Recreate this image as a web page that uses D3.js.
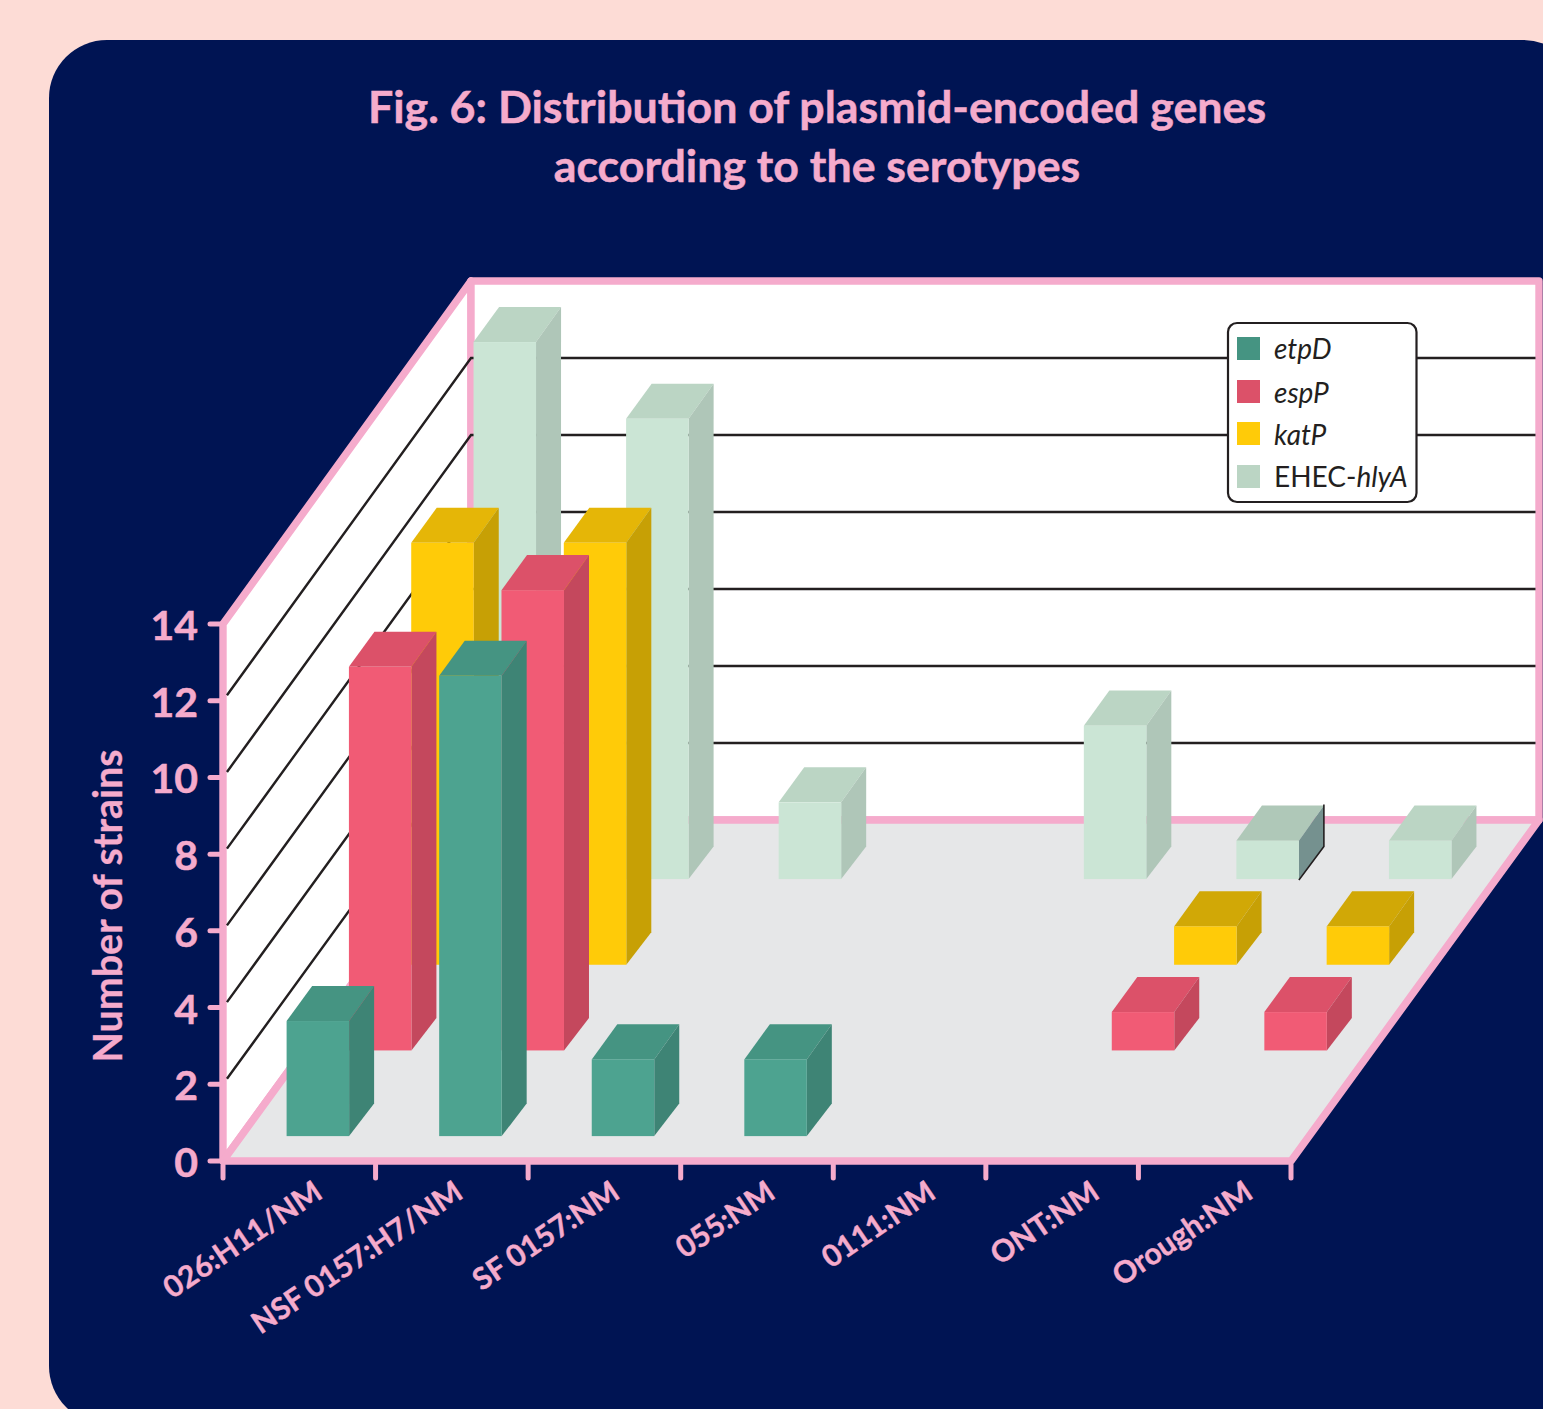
<!DOCTYPE html>
<html>
<head>
<meta charset="utf-8">
<script src="https://cdn.jsdelivr.net/npm/d3@7"></script>
<style>
  html, body { margin: 0; padding: 0; background: #FDDCD6; overflow: hidden; }
  svg { display: block; font-family: Lato, "Open Sans", sans-serif; }
</style>
</head>
<body>
<svg id="chart" width="1543" height="1409"></svg>
<script>
// Serotypes along the floor, genes from the front row to the back row.
const categories = ["026:H11/NM", "NSF 0157:H7/NM", "SF 0157:NM", "055:NM", "0111:NM", "ONT:NM", "Orough:NM"];
const genes = ["etpD", "espP", "katP", "EHEC-hlyA"];
const etpD = [3, 12, 2, 2, 0, 0, 0];
const espP = [10, 12, 0, 0, 0, 1, 1];
const katP = [11, 11, 0, 0, 0, 1, 1];
const hlyA = [14, 12, 2, 0, 4, 1, 1];
const yTicks = [0, 2, 4, 6, 8, 10, 12, 14];

const seriesValues = [etpD, espP, katP, hlyA];

// Face colours per gene.
const frontColors = ["#4DA390", "#F15B75", "#FFCB08", "#CBE5D5"];
const sideColors = ["#3E8475", "#C4485D", "#C7A005", "#AFC6B8"];
const topColors = ["#459482", "#DC5169", "#E5B607", "#BBD5C4"];
const legendColors = ["#459482", "#DC5169", "#FFCB08", "#BBD5C4"];
const PINK = "#F5ABCC", NAVY = "#001453", INK = "#231F20";

const svg = d3.select("#chart");

// Oblique projection: t runs 0 (front) to 1 (back wall).
const SHIFT_X = 248, SHIFT_Y = 341;
const x = d3.scaleBand().domain(categories).range([223, 1291]);
const y = d3.scaleLinear().domain([0, 14]).range([1161, 624]);
const yBack = d3.scaleLinear().domain([0, 14]).range([820, 281]);
const depth = d3.scaleBand().domain(genes).range([0, 1.005]);
const px = (xv, t) => xv + SHIFT_X * t;
const py = (v, t) => y(v) - SHIFT_Y * t;

const BAR_OFFSET = 45.5, BAR_W = 62.5, ROW_OFFSET = 0.073, BAR_DEPTH = 0.103, SIDE_DX = 25, SIDE_DY = 32.5;

// Backdrop panel
svg.append("rect").attr("width", 1543).attr("height", 1409).attr("fill", "#FDDCD6");
svg.append("rect").attr("x", 49).attr("y", 40).attr("width", 1532).attr("height", 1384)
  .attr("rx", 58).attr("fill", NAVY);

// Title
const title = svg.append("g").attr("text-anchor", "middle").attr("font-weight", 700)
  .attr("font-size", 44.7).attr("fill", PINK).attr("stroke", PINK).attr("stroke-width", 0.5);
title.append("text").attr("x", 817).attr("y", 123).text("Fig. 6: Distribution of plasmid-encoded genes");
title.append("text").attr("x", 817).attr("y", 182).text("according to the serotypes");

// Box planes: floor, side wall, back wall
const [x0, x1] = x.range();
const line = d3.line();
const floor = [[px(x0, 0), y(0)], [px(x0, 1), yBack(0)], [px(x1, 1), yBack(0)], [px(x1, 0), y(0)]];
const side = [[px(x0, 0), y(0)], [px(x0, 0), y(14)], [px(x0, 1), yBack(14)], [px(x0, 1), yBack(0)]];
const back = [[px(x0, 1), yBack(0)], [px(x0, 1), yBack(14)], [px(x1, 1), yBack(14)], [px(x1, 1), yBack(0)]];
const frame = svg.append("g").attr("stroke", PINK).attr("stroke-width", 7.4).attr("stroke-linejoin", "round");
frame.append("path").attr("d", line(side) + "Z").attr("fill", "#fff");
frame.append("path").attr("d", line(back) + "Z").attr("fill", "#fff");
frame.append("path").attr("d", line(floor) + "Z").attr("fill", "#E6E7E8");

// Grid lines run along the side wall and across the back wall.
svg.append("g").attr("fill", "none").attr("stroke", INK).attr("stroke-width", 2.4)
  .selectAll("path").data(yTicks.filter(d => d > 0 && d < 14)).join("path")
  .attr("d", d => {
    const inset = 0.016;
    return line([
      [px(x0, inset), y(d) + (yBack(d) - y(d)) * inset],
      [px(x0, 1), yBack(d)],
      [px(x1, 1) - 3.5, yBack(d)]
    ]);
  });

// Axis ticks and labels
const axisG = svg.append("g");
axisG.append("g").attr("stroke", PINK).attr("stroke-width", 5).attr("stroke-linecap", "round")
  .selectAll("line").data(yTicks).join("line")
  .attr("x1", 210).attr("x2", 222).attr("y1", d => y(d)).attr("y2", d => y(d));
const xEdges = categories.map(c => x(c)).concat([x1]);
axisG.append("g").attr("stroke", PINK).attr("stroke-width", 5).attr("stroke-linecap", "round")
  .selectAll("line").data(xEdges).join("line")
  .attr("x1", d => d).attr("x2", d => d).attr("y1", 1165).attr("y2", 1178);

axisG.append("g").attr("text-anchor", "end").attr("font-weight", 700).attr("font-size", 41).attr("fill", PINK)
  .attr("stroke", PINK).attr("stroke-width", 0.5)
  .selectAll("text").data(yTicks).join("text")
  .attr("x", 198).attr("y", d => y(d) + 16).text(d => d);

svg.append("text").attr("transform", "translate(122,906) rotate(-90)")
  .attr("text-anchor", "middle").attr("font-weight", 700).attr("font-size", 39.4).attr("fill", PINK)
  .attr("stroke", PINK).attr("stroke-width", 0.3)
  .text("Number of strains");

const labelNudge = [25, 13, 17, 20, 28, 39, 40];
axisG.append("g").attr("text-anchor", "end").attr("font-weight", 700).attr("font-size", 30).attr("fill", PINK)
  .attr("stroke", PINK).attr("stroke-width", 0.4)
  .selectAll("text").data(categories).join("text")
  .attr("transform", (c, i) => `translate(${x(c) + x.bandwidth() / 2 + labelNudge[i]},1197) rotate(-34)`)
  .text(c => c);

// Bars, painted from the back row forward so nearer rows overlap farther ones.
const cells = [];
for (let s = genes.length - 1; s >= 0; s--) {
  categories.forEach((c, i) => {
    if (seriesValues[s][i] > 0) cells.push({ s, c, i, v: seriesValues[s][i] });
  });
}
const isYellowShort = d => d.s === 2 && d.i >= 5;
const isShadedCell = d => d.s === 3 && d.i === 5;

const bars = svg.append("g").selectAll("g").data(cells).join("g");
const tOf = d => depth(genes[d.s]) + ROW_OFFSET;
const xl = d => px(x(d.c) + BAR_OFFSET, tOf(d));
const xr = d => xl(d) + BAR_W;
const backX = d => px(x(d.c) + BAR_OFFSET, tOf(d) + BAR_DEPTH);
const topRise = SHIFT_Y * BAR_DEPTH;

bars.append("path") // top face
  .attr("d", d => {
    const yt = py(d.v, tOf(d));
    return line([[xl(d), yt], [backX(d), yt - topRise], [xr(d) + SIDE_DX, yt - topRise], [xr(d), yt]]) + "Z";
  })
  .attr("fill", d => isShadedCell(d) ? "#AFC8B8" : isYellowShort(d) ? "#D1A806" : topColors[d.s]);

bars.append("path") // side face
  .attr("d", d => {
    const yt = py(d.v, tOf(d)), yb = py(0, tOf(d));
    return line([[xr(d), yt], [xr(d) + SIDE_DX, yt - topRise], [xr(d) + SIDE_DX, yb - SIDE_DY], [xr(d), yb]]) + "Z";
  })
  .attr("fill", d => isShadedCell(d) ? "#75918F" : sideColors[d.s]);

bars.append("rect") // front face
  .attr("x", xl).attr("width", BAR_W)
  .attr("y", d => py(d.v, tOf(d)))
  .attr("height", d => py(0, tOf(d)) - py(d.v, tOf(d)))
  .attr("fill", d => frontColors[d.s]);

// One side face carries a thin dark rim.
bars.filter(isShadedCell).append("path")
  .attr("d", d => {
    const yb = py(0, tOf(d)), yt = py(d.v, tOf(d));
    return line([[xr(d) + SIDE_DX, yt - topRise - 1], [xr(d) + SIDE_DX, yb - SIDE_DY], [xr(d), yb + 1]]);
  })
  .attr("fill", "none").attr("stroke", INK).attr("stroke-width", 1.6);

// Legend
const legend = svg.append("g");
legend.append("rect").attr("x", 1228).attr("y", 323).attr("width", 188.5).attr("height", 179)
  .attr("rx", 9).attr("fill", "#fff").attr("stroke", INK).attr("stroke-width", 2.2);
const swatchY = [337, 380, 422, 465];
const baselineY = [359, 403, 445, 487];
legend.selectAll("rect.swatch").data(genes).join("rect").attr("class", "swatch")
  .attr("x", 1237).attr("y", (d, i) => swatchY[i]).attr("width", 23).attr("height", 23)
  .attr("fill", (d, i) => legendColors[i]);
const legendText = legend.selectAll("text").data(genes).join("text")
  .attr("x", 1274).attr("y", (d, i) => baselineY[i])
  .attr("font-size", 28).attr("fill", INK);
legendText.each(function (g) {
  const t = d3.select(this);
  const [prefix, name] = g.includes("-") ? [g.slice(0, g.indexOf("-") + 1), g.slice(g.indexOf("-") + 1)] : ["", g];
  if (prefix) t.append("tspan").text(prefix);
  t.append("tspan").attr("font-style", "italic").text(name);
});
</script>
</body>
</html>
